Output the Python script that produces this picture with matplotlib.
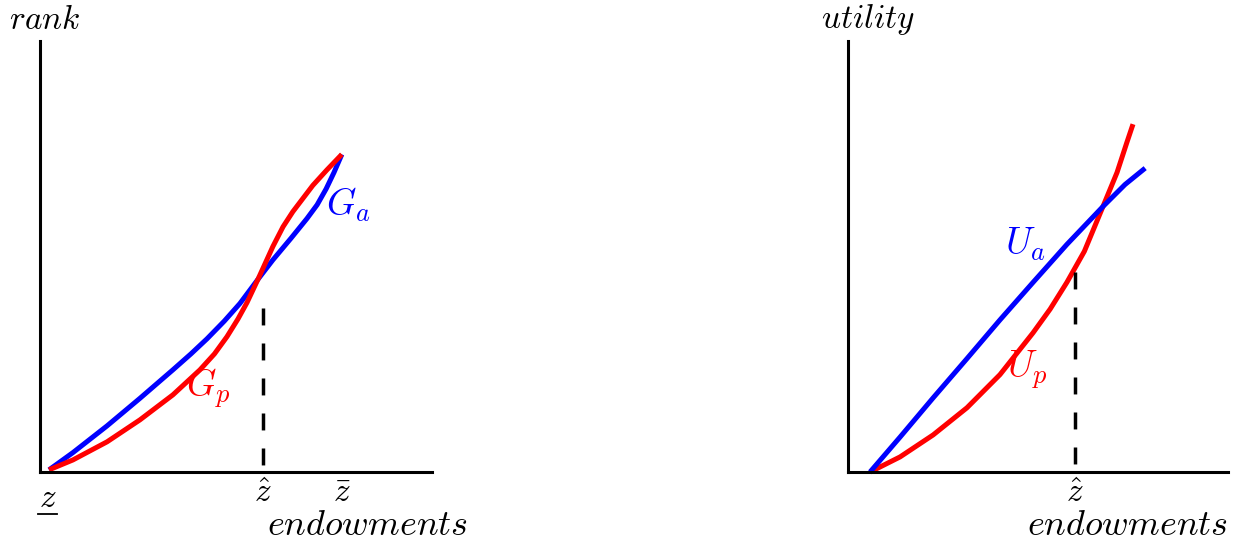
import matplotlib
matplotlib.use('agg')
import matplotlib.pyplot as plt

plt.rcParams['mathtext.fontset'] = 'cm'
plt.rcParams['lines.scale_dashes'] = False

# left panel: rank curves (x = endowments, y = rank)
ga_x = [0.23, 0.84, 1.71, 2.55, 3.39, 3.85, 4.26, 4.70, 5.10, 5.56, 5.94, 6.40, 6.81, 7.07, 7.30, 7.50, 7.70]
ga_y = [0.05, 0.45, 1.07, 1.71, 2.37, 2.74, 3.09, 3.50, 3.91, 4.47, 4.92, 5.42, 5.88, 6.20, 6.57, 6.95, 7.37]
gp_x = [0.23, 0.84, 1.71, 2.55, 3.39, 4.08, 4.45, 4.77, 5.05, 5.28, 5.56, 5.94, 6.20, 6.45, 6.96, 7.32, 7.70]
gp_y = [0.05, 0.28, 0.70, 1.21, 1.79, 2.37, 2.74, 3.14, 3.55, 3.93, 4.47, 5.23, 5.69, 6.04, 6.65, 7.01, 7.37]
z_low, z_hat_left, z_bar = 0.2, 5.69, 7.70
rank_at_zhat = 3.81

# right panel: utility curves
ua_x = [0.58, 1.37, 2.24, 3.13, 4.00, 4.87, 5.76, 6.71, 7.29, 7.82]
ua_y = [0.00, 0.81, 1.72, 2.63, 3.53, 4.40, 5.28, 6.16, 6.67, 7.05]
up_x = [0.58, 1.37, 2.24, 3.13, 4.00, 4.87, 5.32, 5.76, 6.22, 6.71, 7.08, 7.34, 7.50]
up_y = [0.00, 0.35, 0.86, 1.49, 2.26, 3.23, 3.78, 4.40, 5.12, 6.16, 6.95, 7.65, 8.07]
z_hat_right = 5.97
util_at_zhat = 4.63

BLUE = '#0000ff'
RED = '#ff0000'
FS = 24
FS_CURVE = 27
LW = 3.6

fig = plt.figure(figsize=(12.34, 5.4), dpi=100)
ax1 = fig.add_axes([40/1234, 68/540, 392/1234, 431/540])
ax2 = fig.add_axes([848/1234, 68/540, 380/1234, 431/540])

for ax in (ax1, ax2):
    ax.set_xlim(0, 10)
    ax.set_ylim(0, 10)
    for s in ('top', 'right'):
        ax.spines[s].set_visible(False)
    for s in ('left', 'bottom'):
        ax.spines[s].set_linewidth(2.2)
    ax.set_xticks([])
    ax.set_yticks([])
    ax.patch.set_alpha(0)

curve_kw = dict(lw=LW, solid_capstyle='butt', solid_joinstyle='round', clip_on=False)

# left
ax1.plot(ga_x, ga_y, color=BLUE, **curve_kw)
ax1.plot(gp_x, gp_y, color=RED, **curve_kw)
ax1.plot([z_hat_left, z_hat_left], [rank_at_zhat, 0], color='black', lw=2.5,
         dashes=(12.2, 13), clip_on=False)
ax1.text(7.86, 6.21, r'$G_a$', color=BLUE, fontsize=FS_CURVE, ha='center', va='center')
ax1.text(4.30, 1.95, r'$G_p$', color=RED, fontsize=FS_CURVE, ha='center', va='center')
ax1.text(0.13, 10.5, r'$rank$', fontsize=FS, ha='center', va='center', clip_on=False)
ax1.text(z_low, -0.6, r'$z$', fontsize=FS, ha='center', va='center', clip_on=False)
ax1.plot([z_low - 0.24, z_low + 0.24], [-0.98, -0.98], color='black', lw=1.3, clip_on=False)
ax1.text(z_hat_left, -0.47, r'$\hat{z}$', fontsize=FS, ha='center', va='center', clip_on=False)
ax1.text(z_bar, -0.47, r'$\bar{z}$', fontsize=FS, ha='center', va='center', clip_on=False)
ax1.text(8.34, -1.23, r'$endowments$', fontsize=26, ha='center', va='center', clip_on=False)

# right
ax2.plot(up_x, up_y, color=RED, **curve_kw)
ax2.plot(ua_x, ua_y, color=BLUE, **curve_kw)
ax2.plot([z_hat_right, z_hat_right], [util_at_zhat, 0], color='black', lw=2.5,
         dashes=(12.2, 13), clip_on=False)
ax2.text(4.66, 5.28, r'$U_a$', color=BLUE, fontsize=FS_CURVE, ha='center', va='center')
ax2.text(4.71, 2.37, r'$U_p$', color=RED, fontsize=FS_CURVE, ha='center', va='center')
ax2.text(0.53, 10.51, r'$utility$', fontsize=FS, ha='center', va='center', clip_on=False)
ax2.text(z_hat_right, -0.47, r'$\hat{z}$', fontsize=FS, ha='center', va='center', clip_on=False)
ax2.text(7.34, -1.23, r'$endowments$', fontsize=26, ha='center', va='center', clip_on=False)

fig.savefig('out.png', dpi=100)
